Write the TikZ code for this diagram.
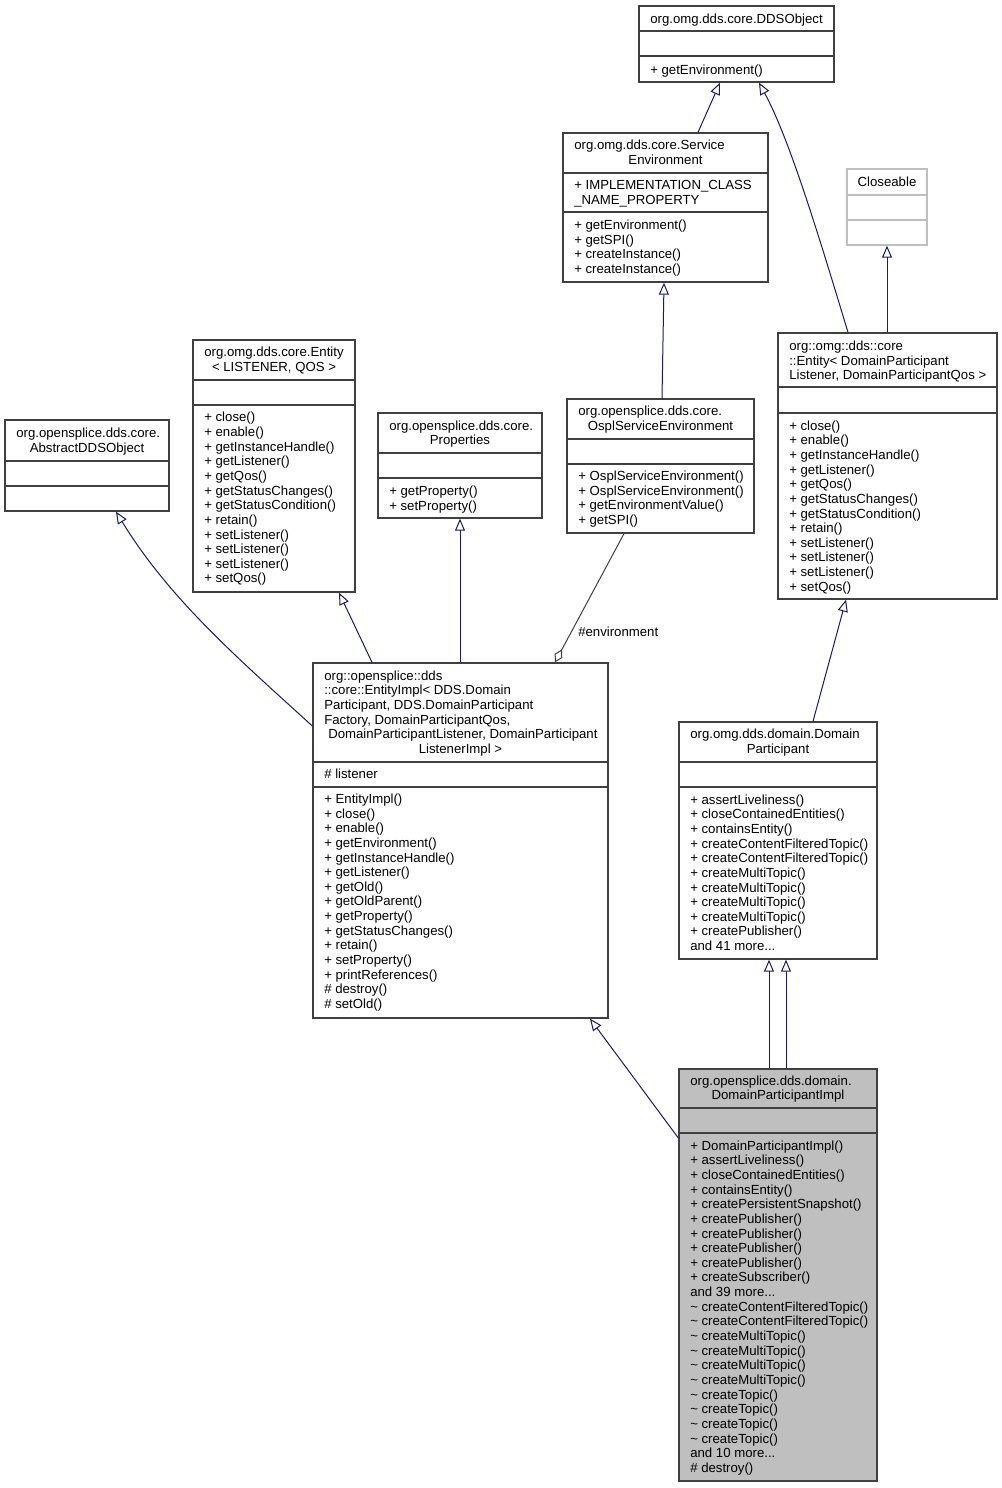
\documentclass[tikz,border=0pt]{standalone}
\usepackage{fontspec}
\setmainfont{Liberation Sans}
\usetikzlibrary{arrows.meta,fit}
\definecolor{edgeblue}{HTML}{191970}
\definecolor{boxline}{HTML}{404040}
\definecolor{lightline}{HTML}{BFBFBF}
\definecolor{selfill}{HTML}{BFBFBF}
\newcommand\fs{\fontsize{9.9pt}{11pt}\selectfont}
\newcommand\tdots{.\kern0pt.\kern0pt.}
\newcommand\mlines[4]{\foreach \mytext [count=\i from 0] in {#4} {\node[tl] (#1\i) at (#2,{#3+\i*14.65}) {\mytext};}}
\begin{document}
\begin{tikzpicture}[x=0.75pt,y=-0.75pt,
  box/.style={draw=boxline,line width=1pt,inner sep=0pt,rectangle},
  sepl/.style={draw=boxline,line width=1pt},
  tl/.style={anchor=west,inner sep=0pt,text height=8.7pt,text depth=1pt,font=\fs},
  tc/.style={tl,anchor=center},
  inh/.style={draw=edgeblue,line width=0.75pt,-{Triangle[open,length=9pt,width=7.5pt]}},
  agg/.style={draw=boxline,line width=0.75pt,{Diamond[open,length=11pt,width=6.5pt]}-}]
\useasboundingbox (0,0) rectangle (1002,1488);

% DDSObject
\node[box,fit={(639,6) (834,82)}] (ddso) {};
\draw[sepl] (ddso.west |- 0,31) -- (ddso.east |- 0,31);
\draw[sepl] (ddso.west |- 0,56) -- (ddso.east |- 0,56);
\node[tc] (ddsoT) at (736.5,18) {org.omg.dds.core.DDSObject};
\mlines{ddsoM}{650}{69}{{+ getEnvironment()}}

% ServiceEnvironment
\node[box,fit={(563,133) (768,282)}] (svc) {};
\draw[sepl] (svc.west |- 0,173) -- (svc.east |- 0,173);
\draw[sepl] (svc.west |- 0,212) -- (svc.east |- 0,212);
\node[tl] (svcT0) at (574,144.5) {org.omg.dds.core.Service};
\node[tc] (svcT1) at (665.5,159) {Environment};
\mlines{svcA}{574}{184.5}{{+ IMPLEMENTATION\_CLASS},{\_NAME\_PROPERTY}}
\mlines{svcM}{574}{224.5}{{+ getEnvironment()},{+ getSPI()},{+ createInstance()},{+ createInstance()}}

% Closeable
\node[draw=lightline,line width=1pt,inner sep=0pt,rectangle,fit={(847,169) (927,245)}] (clo) {};
\draw[draw=lightline,line width=1pt] (clo.west |- 0,195) -- (clo.east |- 0,195);
\draw[draw=lightline,line width=1pt] (clo.west |- 0,220) -- (clo.east |- 0,220);
\node[tc] (cloT) at (887,181) {Closeable};

% org::omg::dds::core::Entity
\node[box,fit={(778,333) (997,599)}] (cent) {};
\draw[sepl] (cent.west |- 0,387) -- (cent.east |- 0,387);
\draw[sepl] (cent.west |- 0,413) -- (cent.east |- 0,413);
\mlines{centT}{789}{345.5}{{org::omg::dds::core},{::Entity< DomainParticipant},{Listener, DomainParticipantQos >}}
\mlines{centM}{789}{425}{{+ close()},{+ enable()},{+ getInstanceHandle()},{+ getListener()},{+ getQos()},{+ getStatusChanges()},{+ getStatusCondition()},{+ retain()},{+ setListener()},{+ setListener()},{+ setListener()},{+ setQos()}}

% OsplServiceEnvironment
\node[box,fit={(567,399) (754,533)}] (ospl) {};
\draw[sepl] (ospl.west |- 0,439) -- (ospl.east |- 0,439);
\draw[sepl] (ospl.west |- 0,464) -- (ospl.east |- 0,464);
\node[tl] (osplT0) at (578,410.5) {org.opensplice.dds.core.};
\node[tc] (osplT1) at (660.5,425) {OsplServiceEnvironment};
\mlines{osplM}{578}{475.5}{{+ OsplServiceEnvironment()},{+ OsplServiceEnvironment()},{+ getEnvironmentValue()},{+ getSPI()}}

% org.omg.dds.core.Entity< LISTENER, QOS >
\node[box,fit={(193,340) (355,592)}] (ent) {};
\draw[sepl] (ent.west |- 0,380) -- (ent.east |- 0,380);
\draw[sepl] (ent.west |- 0,405) -- (ent.east |- 0,405);
\node[tl] (entT0) at (204,351.7) {org.omg.dds.core.Entity};
\node[tc] (entT1) at (274,366.3) {< LISTENER, QOS >};
\mlines{entM}{204}{416.7}{{+ close()},{+ enable()},{+ getInstanceHandle()},{+ getListener()},{+ getQos()},{+ getStatusChanges()},{+ getStatusCondition()},{+ retain()},{+ setListener()},{+ setListener()},{+ setListener()},{+ setQos()}}

% Properties
\node[box,fit={(378,413) (542,518)}] (prop) {};
\draw[sepl] (prop.west |- 0,453) -- (prop.east |- 0,453);
\draw[sepl] (prop.west |- 0,478) -- (prop.east |- 0,478);
\node[tl] (propT0) at (389,425) {org.opensplice.dds.core.};
\node[tc] (propT1) at (460,439.5) {Properties};
\mlines{propM}{389}{490.5}{{+ getProperty()},{+ setProperty()}}

% AbstractDDSObject
\node[box,fit={(5,420) (169,511)}] (abs) {};
\draw[sepl] (abs.west |- 0,461) -- (abs.east |- 0,461);
\draw[sepl] (abs.west |- 0,486) -- (abs.east |- 0,486);
\node[tl] (absT0) at (16,432.5) {org.opensplice.dds.core.};
\node[tc] (absT1) at (87,447) {AbstractDDSObject};

% EntityImpl
\node[box,fit={(313,663) (608,1018)}] (eimpl) {};
\draw[sepl] (eimpl.west |- 0,762) -- (eimpl.east |- 0,762);
\draw[sepl] (eimpl.west |- 0,787) -- (eimpl.east |- 0,787);
\mlines{eimplT}{324}{675}{{org::opensplice::dds},{::core::EntityImpl< DDS.Domain},{Participant, DDS.DomainParticipant},{Factory, DomainParticipantQos,}}
\node[tl] (eimplT4) at (328,733.6) {DomainParticipantListener, DomainParticipant};
\node[tc] (eimplT5) at (460.5,748.3) {ListenerImpl >};
\mlines{eimplA}{324}{773.3}{{\# listener}}
\mlines{eimplM}{324}{798.3}{{+ EntityImpl()},{+ close()},{+ enable()},{+ getEnvironment()},{+ getInstanceHandle()},{+ getListener()},{+ getOld()},{+ getOldParent()},{+ getProperty()},{+ getStatusChanges()},{+ retain()},{+ setProperty()},{+ printReferences()},{\# destroy()},{\# setOld()}}

% DomainParticipant
\node[box,fit={(679,722) (877,959)}] (dp) {};
\draw[sepl] (dp.west |- 0,762) -- (dp.east |- 0,762);
\draw[sepl] (dp.west |- 0,787) -- (dp.east |- 0,787);
\node[tl] (dpT0) at (690,733.5) {org.omg.dds.domain.Domain};
\node[tc] (dpT1) at (778,748) {Participant};
\mlines{dpM}{690}{799}{{+ assertLiveliness()},{+ closeContainedEntities()},{+ containsEntity()},{+ createContentFilteredTopic()},{+ createContentFilteredTopic()},{+ createMultiTopic()},{+ createMultiTopic()},{+ createMultiTopic()},{+ createMultiTopic()},{+ createPublisher()},{and 41 more\tdots}}

% DomainParticipantImpl
\node[box,fill=selfill,fit={(679,1069) (877,1481)}] (dpi) {};
\draw[sepl] (dpi.west |- 0,1108) -- (dpi.east |- 0,1108);
\draw[sepl] (dpi.west |- 0,1133) -- (dpi.east |- 0,1133);
\node[tl] (dpiT0) at (690,1080) {org.opensplice.dds.domain.};
\node[tc] (dpiT1) at (778,1094.5) {DomainParticipantImpl};
\mlines{dpiM}{690}{1145}{{+ DomainParticipantImpl()},{+ assertLiveliness()},{+ closeContainedEntities()},{+ containsEntity()},{+ createPersistentSnapshot()},{+ createPublisher()},{+ createPublisher()},{+ createPublisher()},{+ createPublisher()},{+ createSubscriber()},{and 39 more\tdots},{\textasciitilde{} createContentFilteredTopic()},{\textasciitilde{} createContentFilteredTopic()},{\textasciitilde{} createMultiTopic()},{\textasciitilde{} createMultiTopic()},{\textasciitilde{} createMultiTopic()},{\textasciitilde{} createMultiTopic()},{\textasciitilde{} createTopic()},{\textasciitilde{} createTopic()},{\textasciitilde{} createTopic()},{\textasciitilde{} createTopic()},{and 10 more\tdots},{\# destroy()}}

% Edges
\draw[inh] (698,0 |- svc.north) -- (720,0 |- ddso.south);
\draw[inh] (848,0 |- cent.north) .. controls (820,240) and (790,140) .. (759,0 |- ddso.south);
\draw[inh] (887,0 |- cent.north) -- (887,0 |- clo.south);
\draw[inh] (662,0 |- ospl.north) -- (664,0 |- svc.south);
\draw[inh] (eimpl.west |- 0,726) .. controls (240,660) and (170,600) .. (116,0 |- abs.south);
\draw[inh] (372,0 |- eimpl.north) -- (339,0 |- ent.south);
\draw[inh] (460,0 |- eimpl.north) -- (460,0 |- prop.south);
\draw[agg] (555,0 |- eimpl.north) -- (624,0 |- ospl.south);
\node[tl] (envlbl) at (578,631) {\#environment};
\draw[inh] (813,0 |- dp.north) -- (846,0 |- cent.south);
\draw[inh] (769,0 |- dpi.north) -- (769,0 |- dp.south);
\draw[inh] (786,0 |- dpi.north) -- (786,0 |- dp.south);
\draw[inh] (dpi.west |- 0,1138) -- (590,0 |- eimpl.south);
\end{tikzpicture}
\end{document}
